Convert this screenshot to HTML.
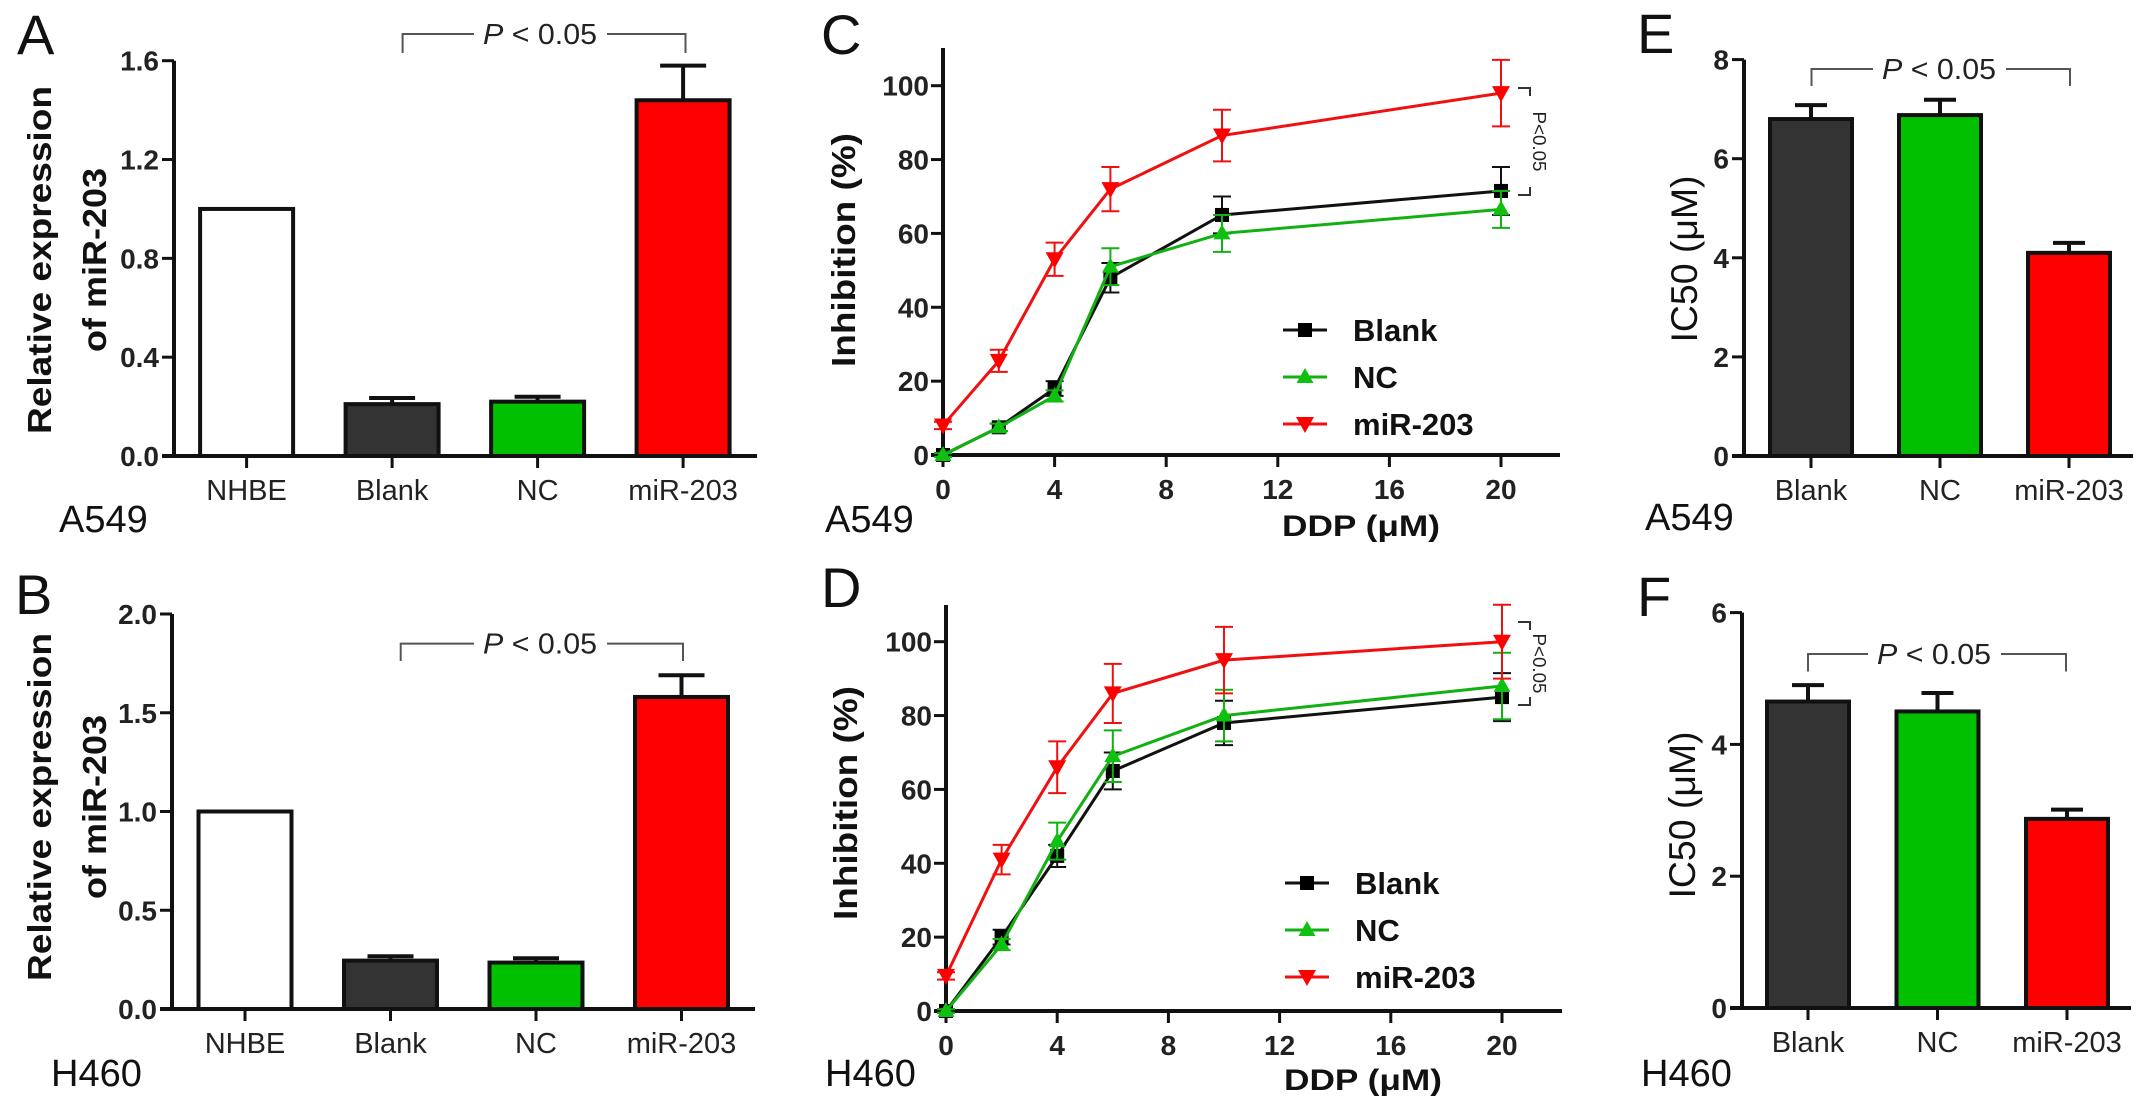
<!DOCTYPE html>
<html><head><meta charset="utf-8"><style>
html,body{margin:0;padding:0;background:#fff;}
svg{display:block;font-family:"Liberation Sans",Arial,sans-serif;}
</style></head>
<body>
<svg id="fig" width="2150" height="1113" viewBox="0 0 2150 1113" xmlns="http://www.w3.org/2000/svg"></svg>
<script>
// ---- data ----
const barCatsAB = ['NHBE','Blank','NC','miR-203'];
const A_vals = [1.0, 0.21, 0.22, 1.44];
const A_errs = [0, 0.025, 0.02, 0.14];
const A_ticks = [0, 0.4, 0.8, 1.2, 1.6];
const B_vals = [1.0, 0.245, 0.235, 1.58];
const B_errs = [0, 0.022, 0.022, 0.11];
const B_ticks = [0, 0.5, 1.0, 1.5, 2.0];
const barCatsEF = ['Blank','NC','miR-203'];
const E_vals = [6.8, 6.88, 4.1];
const E_errs = [0.28, 0.31, 0.2];
const E_ticks = [0, 2, 4, 6, 8];
const F_vals = [4.65, 4.5, 2.87];
const F_errs = [0.25, 0.28, 0.14];
const F_ticks = [0, 2, 4, 6];
const doses = [0, 2, 4, 6, 10, 20];
const doseTicks = [0, 4, 8, 12, 16, 20];
const inhTicks = [0, 20, 40, 60, 80, 100];
const C_blank = [0, 7.5, 18, 48, 65, 71.5];
const C_blankErr = [0.5, 1, 2, 4, 5, 6.5];
const C_nc = [0, 7.5, 16, 51, 60, 66.5];
const C_ncErr = [0.5, 1, 1.5, 5, 5, 5];
const C_mir = [8, 25.5, 53, 72, 86.5, 98];
const C_mirErr = [1, 3, 4.5, 6, 7, 9];
const D_blank = [0, 20, 42, 65, 78, 85];
const D_blankErr = [0.5, 2, 3, 5, 6, 6.5];
const D_nc = [0, 18, 46, 69, 80, 88];
const D_ncErr = [0.5, 1.5, 5, 7, 7, 9];
const D_mir = [9.5, 41, 66, 86, 95, 100];
const D_mirErr = [1, 4, 7, 8, 9, 10];

const NS = 'http://www.w3.org/2000/svg';
const svg = document.getElementById('fig');
function mk(tag, attrs, parent, text) {
  const e = document.createElementNS(NS, tag);
  for (const k in attrs) e.setAttribute(k, attrs[k]);
  if (text !== undefined) e.textContent = text;
  (parent || svg).appendChild(e);
  return e;
}
function grp(name) {
  const g = mk('g', {});
  
  
  return g;
}

// ---- static labels ----
function label(txt, x, y, size, opts, name) {
  const a = Object.assign({x: x, y: y, 'font-size': size, fill: '#111'}, opts || {});
  const t = mk('text', a, svg, txt);
  
  
  return t;
}

function bracket(x1, x2, yTop, yBot, tx, gapL, gapR, name) {
  const g = grp(name);
  const st = {stroke: '#555', 'stroke-width': 2, fill: 'none'};
  mk('polyline', Object.assign({points: `${x1},${yBot} ${x1},${yTop} ${gapL},${yTop}`}, st), g);
  mk('polyline', Object.assign({points: `${gapR},${yTop} ${x2},${yTop} ${x2},${yBot}`}, st), g);
  const t = mk('text', {x: tx, y: yTop + 10, 'font-size': 29, 'text-anchor': 'middle', fill: '#222', textLength: 114, lengthAdjust: 'spacingAndGlyphs'}, g);
  const p = mk('tspan', {'font-style': 'italic'}, t, 'P');
  mk('tspan', {}, t, ' < 0.05');
  
  
}

// ---- bar chart ----
function barChart(cfg) {
  const g = grp(cfg.name);
  const y = v => cfg.y0 - (v / cfg.vmax) * (cfg.y0 - cfg.yTop);
  const x = i => cfg.c0 + i * cfg.step;
  // bars
  cfg.vals.forEach((v, i) => {
    const r = mk('rect', {x: x(i) - cfg.bw / 2, y: y(v), width: cfg.bw, height: cfg.y0 - y(v), fill: cfg.colors[i], stroke: '#111', 'stroke-width': 4}, g);
    
    
    if (cfg.errs[i] > 0) {
      const e = mk('path', {d: `M${x(i)},${y(v)} V${y(v + cfg.errs[i])} M${x(i) - cfg.cap / 2},${y(v + cfg.errs[i])} H${x(i) + cfg.cap / 2}`, stroke: '#111', 'stroke-width': 4, fill: 'none'}, g);
      
      
    }
  });
  // axes
  const ya = mk('line', {x1: cfg.ax, y1: cfg.yTop, x2: cfg.ax, y2: cfg.y0 + 2, stroke: '#111', 'stroke-width': 4}, g);
  
  
  const xa = mk('line', {x1: cfg.ax - 12, y1: cfg.y0, x2: cfg.xEnd, y2: cfg.y0, stroke: '#111', 'stroke-width': 4}, g);
  
  
  cfg.ticks.forEach(t => {
    mk('line', {x1: cfg.ax - 12, y1: y(t), x2: cfg.ax, y2: y(t), stroke: '#111', 'stroke-width': 3}, g);
    const tl = mk('text', {x: cfg.ax - 15, y: y(t) + 10, 'font-size': 28, 'font-weight': 'bold', 'text-anchor': 'end', fill: '#222'}, g, t.toFixed(cfg.dec));
    
    
  });
  cfg.cats.forEach((c, i) => {
    mk('line', {x1: x(i), y1: cfg.y0, x2: x(i), y2: cfg.y0 + 12, stroke: '#111', 'stroke-width': 3}, g);
    const tl = mk('text', {x: x(i), y: cfg.y0 + 44, 'font-size': 29, 'text-anchor': 'middle', fill: '#222'}, g, c);
    
    
  });
}

// ---- line chart ----
function lineChart(cfg) {
  const g = grp(cfg.name);
  const y = v => cfg.y0 - (v / 100) * (cfg.y0 - cfg.y100);
  const x = d => cfg.ax + d * cfg.xu;
  const ya = mk('line', {x1: cfg.ax, y1: cfg.axTop, x2: cfg.ax, y2: cfg.y0 + 2, stroke: '#111', 'stroke-width': 4}, g);
  
  
  const xa = mk('line', {x1: cfg.ax - 12, y1: cfg.y0, x2: cfg.xEnd, y2: cfg.y0, stroke: '#111', 'stroke-width': 4}, g);
  
  
  inhTicks.forEach(t => {
    mk('line', {x1: cfg.ax - 12, y1: y(t), x2: cfg.ax, y2: y(t), stroke: '#111', 'stroke-width': 3}, g);
    const tl = mk('text', {x: cfg.ax - 14, y: y(t) + 10, 'font-size': 28, 'font-weight': 'bold', 'text-anchor': 'end', fill: '#222'}, g, String(t));
    
    
  });
  doseTicks.forEach(t => {
    mk('line', {x1: x(t), y1: cfg.y0, x2: x(t), y2: cfg.y0 + 12, stroke: '#111', 'stroke-width': 3}, g);
    const tl = mk('text', {x: x(t), y: cfg.y0 + 44, 'font-size': 28, 'font-weight': 'bold', 'text-anchor': 'middle', fill: '#222'}, g, String(t));
    
    
  });
  cfg.series.forEach(s => {
    const sg = mk('g', {}, g);
    
    
    const pts = doses.map((d, i) => `${x(d)},${y(s.vals[i])}`).join(' ');
    mk('polyline', {points: pts, fill: 'none', stroke: s.color, 'stroke-width': 3}, sg);
    doses.forEach((d, i) => {
      const v = s.vals[i], e = s.errs[i], cx = x(d);
      mk('path', {d: `M${cx},${y(v - e)} V${y(v + e)} M${cx - 9},${y(v + e)} H${cx + 9} M${cx - 9},${y(v - e)} H${cx + 9}`, stroke: s.color, 'stroke-width': 2, fill: 'none'}, sg);
      marker(sg, s.shape, cx, y(v), s.fill);
    });
  });
  // legend
  cfg.series.forEach((s, i) => {
    const ly = cfg.legY + i * 47;
    const lg = mk('g', {}, g);
    
    
    mk('line', {x1: cfg.legX - 22, y1: ly, x2: cfg.legX + 22, y2: ly, stroke: s.color, 'stroke-width': 3}, lg);
    marker(lg, s.shape, cfg.legX, ly, s.fill);
    mk('text', {x: cfg.legX + 48, y: ly + 11, 'font-size': 31, 'font-weight': 'bold', fill: '#111'}, lg, s.label);
  });
  // significance bracket
  const bx = cfg.pX;
  const bg = mk('g', {}, g);
  
  
  mk('polyline', {points: `${bx - 12},${cfg.pTop} ${bx},${cfg.pTop} ${bx},${cfg.pTop + 8}`, fill: 'none', stroke: '#333', 'stroke-width': 2}, bg);
  mk('polyline', {points: `${bx},${cfg.pBot - 8} ${bx},${cfg.pBot} ${bx - 12},${cfg.pBot}`, fill: 'none', stroke: '#333', 'stroke-width': 2}, bg);
  const pc = (cfg.pTop + cfg.pBot) / 2;
  mk('text', {x: bx + 3, y: pc, 'font-size': 18, 'text-anchor': 'middle', fill: '#222', transform: `rotate(90 ${bx + 3} ${pc})`, textLength: 60, lengthAdjust: 'spacingAndGlyphs'}, bg, 'P<0.05');
}
function marker(parent, shape, cx, cy, fill) {
  if (shape === 'square') mk('rect', {x: cx - 7, y: cy - 7, width: 14, height: 14, fill: fill}, parent);
  else if (shape === 'up') mk('polygon', {points: `${cx},${cy - 9} ${cx - 8.5},${cy + 6} ${cx + 8.5},${cy + 6}`, fill: fill}, parent);
  else mk('polygon', {points: `${cx},${cy + 9} ${cx - 9},${cy - 7} ${cx + 9},${cy - 7}`, fill: fill}, parent);
}

const barColors4 = ['#ffffff', '#333333', '#00c000', '#ff0000'];
const barColors3 = ['#333333', '#00c000', '#ff0000'];

barChart({name: 'panel-a-chart', cats: barCatsAB, vals: A_vals, errs: A_errs, ticks: A_ticks, dec: 1, vmax: 1.6,
  ax: 174, y0: 456, yTop: 60.7, c0: 246.6, step: 145.5, bw: 93, cap: 46, xEnd: 757, colors: barColors4});
barChart({name: 'panel-b-chart', cats: barCatsAB, vals: B_vals, errs: B_errs, ticks: B_ticks, dec: 1, vmax: 2.0,
  ax: 172, y0: 1009, yTop: 614, c0: 245, step: 145.5, bw: 93, cap: 46, xEnd: 755, colors: barColors4});
barChart({name: 'panel-e-chart', cats: barCatsEF, vals: E_vals, errs: E_errs, ticks: E_ticks, dec: 0, vmax: 8,
  ax: 1744, y0: 456, yTop: 59.6, c0: 1811, step: 129, bw: 82, cap: 32, xEnd: 2133, colors: barColors3});
barChart({name: 'panel-f-chart', cats: barCatsEF, vals: F_vals, errs: F_errs, ticks: F_ticks, dec: 0, vmax: 6,
  ax: 1742, y0: 1008, yTop: 612.6, c0: 1808, step: 129.5, bw: 82, cap: 32, xEnd: 2131, colors: barColors3});

lineChart({name: 'panel-c-chart', ax: 943, y0: 455, y100: 85.7, axTop: 48, xu: 27.9, xEnd: 1560,
  legX: 1305, legY: 330, pX: 1530, pTop: 88, pBot: 195,
  series: [
    {key: 'blank', label: 'Blank', vals: C_blank, errs: C_blankErr, color: '#111', fill: '#000', shape: 'square'},
    {key: 'nc', label: 'NC', vals: C_nc, errs: C_ncErr, color: '#12b012', fill: '#10c010', shape: 'up'},
    {key: 'mir-203', label: 'miR-203', vals: C_mir, errs: C_mirErr, color: '#f01010', fill: '#ff0000', shape: 'down'}]});
lineChart({name: 'panel-d-chart', ax: 946, y0: 1011, y100: 641.7, axTop: 605, xu: 27.8, xEnd: 1562,
  legX: 1307, legY: 883, pX: 1530, pTop: 622, pBot: 705,
  series: [
    {key: 'blank', label: 'Blank', vals: D_blank, errs: D_blankErr, color: '#111', fill: '#000', shape: 'square'},
    {key: 'nc', label: 'NC', vals: D_nc, errs: D_ncErr, color: '#12b012', fill: '#10c010', shape: 'up'},
    {key: 'mir-203', label: 'miR-203', vals: D_mir, errs: D_mirErr, color: '#f01010', fill: '#ff0000', shape: 'down'}]});

// brackets for bar panels
bracket(402.6, 685.5, 34, 53, 540, 474, 607, 'bracket-a');
bracket(400.7, 683, 643.6, 661, 540, 474, 607, 'bracket-b');
bracket(1811.5, 2070, 69, 86, 1939, 1873, 2006, 'bracket-e');
bracket(1808, 2066, 654, 671.5, 1934, 1868, 2001, 'bracket-f');

// panel letters
label('A', 17, 54, 56, {}, 'panel-letter-a');
label('B', 15, 614, 56, {}, 'panel-letter-b');
label('C', 821, 54, 56, {}, 'panel-letter-c');
label('D', 821, 607, 56, {}, 'panel-letter-d');
label('E', 1637, 53, 56, {}, 'panel-letter-e');
label('F', 1637, 616, 56, {}, 'panel-letter-f');
// cell line labels
label('A549', 59, 532, 38, {}, 'cell-line-label-a');
label('H460', 51, 1086, 38, {}, 'cell-line-label-b');
label('A549', 825, 532, 38, {}, 'cell-line-label-c');
label('H460', 825, 1086, 38, {}, 'cell-line-label-d');
label('A549', 1645, 530, 38, {}, 'cell-line-label-e');
label('H460', 1641, 1086, 38, {}, 'cell-line-label-f');
// axis titles
function vlabel(txt, x, cy, size, len, bold, name) {
  const t = mk('text', {x: x, y: cy, 'font-size': size, 'font-weight': bold ? 'bold' : 'normal', 'text-anchor': 'middle', fill: '#111',
    transform: `rotate(-90 ${x} ${cy})`, textLength: len, lengthAdjust: 'spacingAndGlyphs'}, svg, txt);
  
  
}
vlabel('Relative expression', 51, 260, 33, 348, true, 'y-axis-title-a-line1');
vlabel('of miR-203', 106, 260, 33, 184, true, 'y-axis-title-a-line2');
vlabel('Relative expression', 51, 807, 33, 348, true, 'y-axis-title-b-line1');
vlabel('of miR-203', 106, 807, 33, 184, true, 'y-axis-title-b-line2');
vlabel('Inhibition (%)', 855, 250, 33, 234, true, 'y-axis-title-c');
vlabel('Inhibition (%)', 857, 803, 33, 234, true, 'y-axis-title-d');
vlabel('IC50 (μM)', 1697, 259, 37, 167, false, 'y-axis-title-e');
vlabel('IC50 (μM)', 1695, 815, 37, 167, false, 'y-axis-title-f');
label('DDP (μM)', 1282, 536, 30, {'font-weight': 'bold', textLength: 158, lengthAdjust: 'spacingAndGlyphs'}, 'x-axis-title-c');
label('DDP (μM)', 1284, 1090, 30, {'font-weight': 'bold', textLength: 158, lengthAdjust: 'spacingAndGlyphs'}, 'x-axis-title-d');
</script>
</body></html>
